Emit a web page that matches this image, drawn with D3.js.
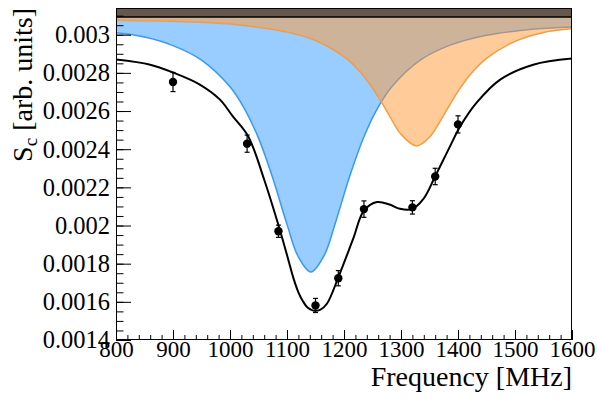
<!DOCTYPE html>
<html><head><meta charset="utf-8">
<script src="https://cdn.jsdelivr.net/npm/d3@7"></script>
<style>
html,body{margin:0;padding:0;background:#fff;}
svg{display:block;}
</style>
</head><body>
<svg id="chart" width="597" height="401"></svg>
<script>
// ---- data ----
const dataFreq = [900, 1030, 1085, 1150, 1190, 1235, 1320, 1360, 1400];
const dataValue = [0.002752, 0.002429, 0.001970, 0.001581, 0.001724, 0.002086, 0.002095, 0.002257, 0.002530];
const dataError = [0.000050, 0.000045, 0.000032, 0.000037, 0.000040, 0.000043, 0.000035, 0.000043, 0.000045];

const fitFreq = [800, 860, 900, 947, 982, 1005, 1032, 1060, 1086, 1100, 1111, 1120, 1128, 1136, 1146, 1158, 1170, 1191, 1216, 1235, 1258, 1280, 1298, 1319, 1339, 1360, 1386, 1404, 1433, 1474, 1532, 1600];
const fitValue = [0.002870, 0.002843, 0.002802, 0.002739, 0.002661, 0.002572, 0.002467, 0.002240, 0.001992, 0.001845, 0.001727, 0.001650, 0.001603, 0.001570, 0.001554, 0.001558, 0.001590, 0.001736, 0.001930, 0.002078, 0.002123, 0.002110, 0.002088, 0.002086, 0.002138, 0.002258, 0.002415, 0.002520, 0.002645, 0.002765, 0.002843, 0.002875];

const blueFreq = [800, 850, 900, 950, 1000, 1025, 1050, 1075, 1100, 1120, 1142, 1165, 1185, 1210, 1235, 1260, 1285, 1335, 1385, 1450, 1525, 1600];
const blueValue = [0.003010, 0.002988, 0.002943, 0.002867, 0.002727, 0.002614, 0.002458, 0.002249, 0.002006, 0.001835, 0.001756, 0.001842, 0.002015, 0.002258, 0.002465, 0.002620, 0.002731, 0.002869, 0.002944, 0.002997, 0.003027, 0.003040];

const orangeFreq = [800, 900, 1000, 1100, 1150, 1200, 1225, 1250, 1275, 1300, 1327, 1350, 1375, 1400, 1425, 1450, 1500, 1550, 1600];
const orangeValue = [0.003076, 0.003070, 0.003056, 0.003014, 0.002970, 0.002885, 0.002816, 0.002721, 0.002600, 0.002478, 0.002417, 0.002463, 0.002579, 0.002703, 0.002803, 0.002876, 0.002965, 0.003012, 0.003031];

const baselineValue = 0.003093;

const xMajorTicks = [800, 900, 1000, 1100, 1200, 1300, 1400, 1500, 1600];
const xMinorTicks = d3.range(800, 1601, 20);
const yMajorTicks = [0.0014, 0.0016, 0.0018, 0.002, 0.0022, 0.0024, 0.0026, 0.0028, 0.003];
const yMajorLabels = ["0.0014", "0.0016", "0.0018", "0.002", "0.0022", "0.0024", "0.0026", "0.0028", "0.003"];
const yMinorTicks = d3.range(0.0014, 0.00314, 0.00005);

const xTitle = "Frequency [MHz]";

// ---- layout ----
const L = 116, R = 572, T = 8, B = 340;
const svg = d3.select("#chart");
const x = d3.scaleLinear().domain([800, 1600]).range([L, R]);
const y = d3.scaleLinear().domain([0.0014, 0.00314]).range([B, T]);
const font = "'Liberation Serif', 'Times New Roman', serif";

svg.append("defs").append("clipPath").attr("id", "frameclip")
  .append("rect").attr("x", L).attr("y", T).attr("width", R - L).attr("height", B - T);

const plot = svg.append("g").attr("clip-path", "url(#frameclip)");

function pts(fs, vs) { return fs.map((f, i) => [f, vs[i]]); }

const areaTop = d3.area().x(d => x(d[0])).y0(T).y1(d => y(d[1])).curve(d3.curveCatmullRom);
const line = d3.line().x(d => x(d[0])).y(d => y(d[1])).curve(d3.curveCatmullRom);

// blue component
plot.append("path").datum(pts(blueFreq, blueValue)).attr("d", areaTop)
  .attr("fill", "#3399ff").attr("fill-opacity", 0.5);
plot.append("path").datum(pts(blueFreq, blueValue)).attr("d", line)
  .attr("fill", "none").attr("stroke", "#3399ff").attr("stroke-width", 1.5);

// orange component
plot.append("path").datum(pts(orangeFreq, orangeValue)).attr("d", areaTop)
  .attr("fill", "#ff9933").attr("fill-opacity", 0.5);
plot.append("path").datum(pts(orangeFreq, orangeValue)).attr("d", line)
  .attr("fill", "none").attr("stroke", "#ff9933").attr("stroke-width", 1.5);

// baseline band
plot.append("rect").attr("x", L).attr("y", T).attr("width", R - L)
  .attr("height", y(baselineValue) - T).attr("fill", "#000").attr("fill-opacity", 0.5);
plot.append("line").attr("x1", x(800)).attr("x2", x(1600))
  .attr("y1", y(baselineValue)).attr("y2", y(baselineValue))
  .attr("stroke", "#000").attr("stroke-width", 1.6);

// fit curve
plot.append("path").datum(pts(fitFreq, fitValue)).attr("d", line)
  .attr("fill", "none").attr("stroke", "#000").attr("stroke-width", 2);

// data points with error bars
const pg = svg.append("g");
dataFreq.forEach((f, i) => {
  const cx = x(f), v = dataValue[i], e = dataError[i];
  pg.append("line").attr("x1", cx).attr("x2", cx).attr("y1", y(v - e)).attr("y2", y(v + e))
    .attr("stroke", "#000").attr("stroke-width", 1.2);
  [v - e, v + e].forEach(b => {
    pg.append("line").attr("x1", cx - 2.5).attr("x2", cx + 2.5).attr("y1", y(b)).attr("y2", y(b))
      .attr("stroke", "#000").attr("stroke-width", 1.2);
  });
  pg.append("circle").attr("cx", cx).attr("cy", y(v)).attr("r", 4.2).attr("fill", "#000");
});

// frame
svg.append("rect").attr("x", L + 0.5).attr("y", T + 0.5).attr("width", R - L - 1).attr("height", B - T - 1)
  .attr("fill", "none").attr("stroke", "#000").attr("stroke-width", 1);

// axes
const xAxisMinor = d3.axisBottom(x).tickValues(xMinorTicks).tickSize(-5).tickFormat("");
const xAxisMajor = d3.axisBottom(x).tickValues(xMajorTicks).tickSize(-10).tickPadding(1).tickFormat(d3.format("d"));
const yAxisMinor = d3.axisLeft(y).tickValues(yMinorTicks).tickSize(-7.5).tickFormat("");
const yAxisMajor = d3.axisLeft(y).tickValues(yMajorTicks).tickSize(-15).tickPadding(6)
  .tickFormat((d, i) => yMajorLabels[i]);

function styleAxis(size) {
  return g => {
    g.select(".domain").remove();
    g.selectAll(".tick line").attr("stroke", "#000").attr("stroke-width", 1);
    g.selectAll("text").attr("font-family", font).attr("font-size", size).attr("fill", "#000");
  };
}
svg.append("g").attr("transform", `translate(0,${B})`).call(xAxisMinor).call(styleAxis(23));
svg.append("g").attr("transform", `translate(0,${B})`).call(xAxisMajor).call(styleAxis(23));
svg.append("g").attr("transform", `translate(${L},0)`).call(yAxisMinor).call(styleAxis(24.5));
svg.append("g").attr("transform", `translate(${L},0)`).call(yAxisMajor).call(styleAxis(24.5));

// titles
svg.append("text").attr("x", R).attr("y", 386).attr("text-anchor", "end")
  .attr("font-family", font).attr("font-size", 28).attr("fill", "#000").text(xTitle);

const yt = svg.append("text").attr("transform", "translate(32,8) rotate(-90)")
  .attr("text-anchor", "end").attr("font-family", font).attr("font-size", 28).attr("fill", "#000");
yt.append("tspan").text("S");
yt.append("tspan").attr("font-size", 19).attr("dy", 5).text("c");
yt.append("tspan").attr("dy", -5).text(" [arb. units]");
</script>
</body></html>
